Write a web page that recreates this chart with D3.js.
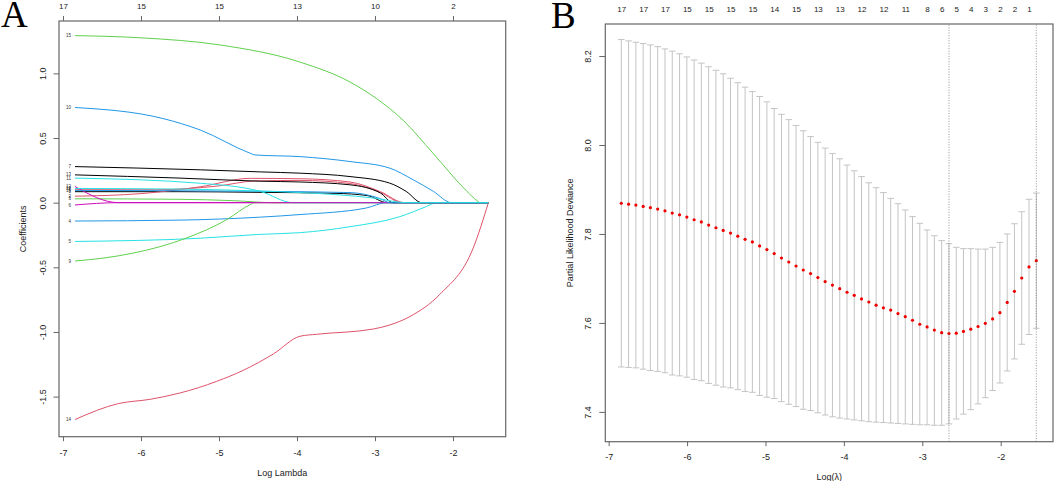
<!DOCTYPE html>
<html>
<head>
<meta charset="utf-8">
<script src="https://cdn.jsdelivr.net/npm/d3@7"></script>
<style>
  html, body { margin: 0; padding: 0; background: #fff; }
  svg { display: block; }
</style>
</head>
<body>
<script>
// ---------- panel A: lasso coefficient paths ----------
const coefXTicks = [-7, -6, -5, -4, -3, -2];
const coefTopLabels = ["17", "15", "15", "13", "10", "2"];
const coefYTicks = [1.0, 0.5, 0.0, -0.5, -1.0, -1.5];
const coefYLabels = ["1.0", "0.5", "0.0", "-0.5", "-1.0", "-1.5"];

// [log lambda, coefficient]
const coef01 = [[-6.846,0.085],[-5.5,0.085],[-4.5,0.08],[-3.5,0.072],[-3.1,0.055],[-2.84,0],[-1.546,0]];
const coef02 = [[-6.846,0.05],[-6.0,0.07],[-5.24,0.123],[-4.6,0.188],[-3.96,0.185],[-3.32,0.16],[-2.93,0.085],[-2.62,0],[-1.546,0]];
const coef03 = [[-6.846,0.03],[-5.5,0.026],[-4.8,0.015],[-4.3,0],[-1.546,0]];
const coef04 = [[-6.846,-0.142],[-5.5,-0.135],[-4.47,-0.112],[-3.96,-0.092],[-3.11,-0.041],[-2.85,0],[-1.546,0]];
const coef05 = [[-6.846,-0.30],[-5.24,-0.275],[-4.47,-0.245],[-3.96,-0.232],[-3.32,-0.186],[-2.68,-0.108],[-2.34,-0.03],[-2.21,0],[-1.546,0]];
const coef06 = [[-6.846,-0.018],[-6.29,0],[-1.546,0]];
const coef07 = [[-6.846,0.279],[-5.24,0.254],[-4.47,0.238],[-3.96,0.228],[-3.32,0.202],[-2.81,0.151],[-2.6,0.087],[-2.40,0],[-1.546,0]];
const coef08 = [[-6.846,0.10],[-5.8,0.10],[-5.0,0.13],[-4.54,0.168],[-3.96,0.172],[-3.32,0.148],[-2.93,0.078],[-2.65,0],[-1.546,0]];
const coef09 = [[-6.846,-0.451],[-6.5,-0.43],[-6.1,-0.39],[-5.41,-0.272],[-4.90,-0.131],[-4.6,-0.015],[-4.54,0],[-1.546,0]];
const coef10 = [[-6.846,0.736],[-5.72,0.651],[-5.24,0.562],[-4.60,0.382],[-4.54,0.369],[-3.96,0.356],[-3.32,0.318],[-2.81,0.267],[-2.51,0.177],[-2.25,0.087],[-2.02,0],[-1.546,0]];
const coef11 = [[-6.846,0.19],[-5.24,0.15],[-4.47,0.087],[-4.05,0],[-1.546,0]];
const coef12 = [[-6.846,0.125],[-6.29,0],[-1.546,0]];
const coef13 = [[-6.846,0.215],[-5.5,0.19],[-4.47,0.166],[-3.96,0.16],[-3.32,0.138],[-2.93,0.075],[-2.77,0],[-1.546,0]];
const coef14 = [[-6.846,-1.677],[-6.29,-1.554],[-5.885,-1.521],[-5.5,-1.472],[-5.03,-1.382],[-4.69,-1.297],[-4.30,-1.169],[-3.96,-1.033],[-3.75,-1.018],[-3.02,-0.977],[-2.81,-0.946],[-2.55,-0.88],[-2.17,-0.71],[-1.74,-0.35],[-1.546,0]];
const coef15 = [[-6.846,1.292],[-6.0,1.275],[-4.99,1.22],[-3.96,1.087],[-3.32,0.933],[-2.98,0.805],[-2.64,0.638],[-2.26,0.385],[-1.82,0.087],[-1.69,0.015],[-1.65,0],[-1.546,0]];
const coef16 = [[-6.846,0.095],[-5.5,0.092],[-4.47,0.088],[-3.32,0.078],[-2.95,0.035],[-2.8,0],[-1.546,0]];
const coef17 = [[-6.846,0.11],[-5.5,0.105],[-4.47,0.09],[-3.5,0.062],[-3.0,0.035],[-2.6,0],[-1.546,0]];
const varLabels = ["1","2","3","4","5","6","7","8","9","10","11","12","13","14","15","16","17"];

// ---------- panel B: cross-validation curve ----------
const logLambda = [-6.839,-6.746,-6.653,-6.560,-6.468,-6.375,-6.282,-6.189,-6.096,-6.003,
  -5.910,-5.818,-5.725,-5.632,-5.539,-5.446,-5.353,-5.260,-5.167,-5.075,
  -4.982,-4.889,-4.796,-4.703,-4.610,-4.518,-4.425,-4.332,-4.239,-4.146,
  -4.053,-3.960,-3.868,-3.775,-3.682,-3.589,-3.496,-3.403,-3.310,-3.217,
  -3.125,-3.032,-2.939,-2.846,-2.753,-2.660,-2.567,-2.475,-2.382,-2.289,
  -2.196,-2.103,-2.010,-1.917,-1.825,-1.732,-1.639,-1.546];
const cvMean = [7.869,7.867,7.865,7.862,7.859,7.856,7.852,7.847,7.843,7.838,
  7.832,7.827,7.820,7.814,7.808,7.802,7.795,7.788,7.782,7.773,
  7.765,7.756,7.746,7.737,7.728,7.719,7.711,7.702,7.693,7.685,
  7.677,7.669,7.662,7.654,7.647,7.640,7.634,7.629,7.621,7.614,
  7.606,7.597,7.591,7.584,7.578,7.576,7.577,7.581,7.586,7.592,
  7.599,7.609,7.623,7.646,7.671,7.701,7.726,7.740];
const cvUpper = [8.237,8.234,8.231,8.228,8.225,8.221,8.216,8.211,8.205,8.198,
  8.191,8.184,8.176,8.168,8.160,8.150,8.140,8.130,8.120,8.109,
  8.097,8.082,8.069,8.057,8.044,8.032,8.019,8.006,7.993,7.981,
  7.969,7.955,7.942,7.929,7.915,7.904,7.893,7.880,7.868,7.854,
  7.839,7.824,7.809,7.796,7.785,7.778,7.770,7.767,7.767,7.766,
  7.766,7.770,7.781,7.800,7.823,7.850,7.878,7.892];
const cvLower = [7.501,7.500,7.499,7.496,7.493,7.491,7.488,7.483,7.481,7.478,
  7.473,7.470,7.464,7.460,7.456,7.454,7.450,7.446,7.444,7.437,
  7.433,7.430,7.423,7.417,7.412,7.406,7.403,7.398,7.393,7.389,
  7.386,7.384,7.382,7.380,7.378,7.377,7.376,7.375,7.374,7.373,
  7.372,7.371,7.371,7.370,7.370,7.373,7.384,7.395,7.405,7.418,
  7.432,7.448,7.465,7.492,7.519,7.552,7.574,7.588];
const nzeroIdx = [0,3,6,9,12,15,18,21,24,27,30,33,36,39,42,44,46,48,50,52,54,56];
const nzeroLabels = ["17","17","17","15","15","15","15","14","15","13","13","12","12","11","8","6","5","4","3","2","2","1"];
const cvXTicks = [-7, -6, -5, -4, -3, -2];
const cvYTicks = [7.4, 7.6, 7.8, 8.0, 8.2];
const lambdaMinLog = -2.660;
const lambda1seLog = -1.546;

// ---------- drawing ----------
const font = "'Liberation Sans', Arial, Helvetica, sans-serif";
const axisColor = "#666";
const textColor = "#222";
const palette = ["#000000", "#DF536B", "#61D04F", "#2297E6", "#28E2E5", "#CD0BBC"];

const svg = d3.select("body").append("svg")
    .attr("width", 1055)
    .attr("height", 481)
    .style("background", "#fff");

function styleAxis(g, size) {
    g.select(".domain").remove();
    g.selectAll("line").attr("stroke", axisColor);
    g.selectAll("text")
        .attr("fill", textColor)
        .attr("font-family", font)
        .attr("font-size", size);
}

// panel letters
svg.append("text").attr("x", 1).attr("y", 27)
    .attr("font-family", "'Liberation Serif', 'Times New Roman', serif")
    .attr("font-size", 37).attr("fill", "#000").text("A");
svg.append("text").attr("x", 551).attr("y", 28)
    .attr("font-family", "'Liberation Serif', 'Times New Roman', serif")
    .attr("font-size", 37).attr("fill", "#000").text("B");

// ===== Panel A =====
const xA = d3.scaleLinear().domain([-7.051, -1.324]).range([59, 505.7]);
const yA = d3.scaleLinear().domain([-1.810, 1.405]).range([436.7, 21]);

const coefPaths = [coef01, coef02, coef03, coef04, coef05, coef06, coef07, coef08, coef09,
    coef10, coef11, coef12, coef13, coef14, coef15, coef16, coef17];

const lineA = d3.line()
    .x(d => xA(d[0]))
    .y(d => yA(d[1]))
    .curve(d3.curveMonotoneX);

const gA = svg.append("g");

gA.selectAll("path.coef")
    .data(coefPaths)
    .enter()
    .append("path")
    .attr("class", "coef")
    .attr("d", lineA)
    .attr("fill", "none")
    .attr("stroke", (d, i) => palette[i % 6])
    .attr("stroke-width", 1);

gA.selectAll("text.varlab")
    .data(coefPaths)
    .enter()
    .append("text")
    .attr("class", "varlab")
    .attr("x", d => xA(d[0][0]) - 4)
    .attr("y", d => yA(d[0][1]))
    .attr("dy", "0.35em")
    .attr("text-anchor", "end")
    .attr("font-family", font)
    .attr("font-size", 4.5)
    .attr("fill", "#333")
    .text((d, i) => varLabels[i]);

gA.append("rect")
    .attr("x", 59).attr("y", 21)
    .attr("width", 505.7 - 59).attr("height", 436.7 - 21)
    .attr("fill", "none").attr("stroke", axisColor).attr("stroke-width", 1.2);

gA.append("g")
    .attr("transform", "translate(0,436.7)")
    .call(d3.axisBottom(xA).tickValues(coefXTicks).tickSize(4.5).tickFormat(d => `${d}`))
    .call(g => styleAxis(g, 9))
    .call(g => g.selectAll("text").attr("y", 16).attr("dy", "0.35em"));

gA.append("g")
    .attr("transform", "translate(0,21)")
    .call(d3.axisTop(xA).tickValues(coefXTicks).tickSize(5).tickFormat((d, i) => coefTopLabels[i]))
    .call(g => styleAxis(g, 8))
    .call(g => g.selectAll("text").attr("y", -14.5).attr("dy", "0.35em"));

gA.append("g")
    .attr("transform", "translate(59,0)")
    .call(d3.axisLeft(yA).tickValues(coefYTicks).tickSize(5.5).tickFormat((d, i) => coefYLabels[i]))
    .call(g => styleAxis(g, 9))
    .call(g => g.selectAll("text")
        .attr("x", 0).attr("y", 0).attr("dy", "0.35em")
        .attr("text-anchor", "middle")
        .attr("transform", "translate(-16,0) rotate(-90)"));

gA.append("text")
    .attr("x", (59 + 505.7) / 2).attr("y", 473.3).attr("dy", "0.35em")
    .attr("text-anchor", "middle")
    .attr("font-family", font).attr("font-size", 9).attr("fill", textColor)
    .text("Log Lambda");

gA.append("text")
    .attr("transform", `translate(23.3,${(21 + 436.7) / 2}) rotate(-90)`)
    .attr("dy", "0.35em")
    .attr("text-anchor", "middle")
    .attr("font-family", font).attr("font-size", 9).attr("fill", textColor)
    .text("Coefficients");

// ===== Panel B =====
const xB = d3.scaleLinear().domain([-7.043, -1.333]).range([605.3, 1053]);
const yB = d3.scaleLinear().domain([7.333, 8.272]).range([441.7, 24]);
const capHalf = 0.042;

const cvData = logLambda.map((l, i) => ({ l: l, m: cvMean[i], up: cvUpper[i], lo: cvLower[i] }));

const gB = svg.append("g");
const barColor = "#c4c4c4";

gB.selectAll("line.bar")
    .data(cvData)
    .enter()
    .append("line")
    .attr("class", "bar")
    .attr("x1", d => xB(d.l)).attr("x2", d => xB(d.l))
    .attr("y1", d => yB(d.lo)).attr("y2", d => yB(d.up))
    .attr("stroke", barColor).attr("stroke-width", 1);

gB.selectAll("line.capup")
    .data(cvData)
    .enter()
    .append("line")
    .attr("class", "capup")
    .attr("x1", d => xB(d.l - capHalf)).attr("x2", d => xB(d.l + capHalf))
    .attr("y1", d => yB(d.up)).attr("y2", d => yB(d.up))
    .attr("stroke", barColor).attr("stroke-width", 1);

gB.selectAll("line.caplo")
    .data(cvData)
    .enter()
    .append("line")
    .attr("class", "caplo")
    .attr("x1", d => xB(d.l - capHalf)).attr("x2", d => xB(d.l + capHalf))
    .attr("y1", d => yB(d.lo)).attr("y2", d => yB(d.lo))
    .attr("stroke", barColor).attr("stroke-width", 1);

gB.selectAll("circle.pt")
    .data(cvData)
    .enter()
    .append("circle")
    .attr("class", "pt")
    .attr("cx", d => xB(d.l))
    .attr("cy", d => yB(d.m))
    .attr("r", 1.6)
    .attr("fill", "#ee0000");

gB.selectAll("line.vref")
    .data([lambdaMinLog, lambda1seLog])
    .enter()
    .append("line")
    .attr("class", "vref")
    .attr("x1", d => xB(d)).attr("x2", d => xB(d))
    .attr("y1", yB.range()[0]).attr("y2", yB.range()[1])
    .attr("stroke", "#777").attr("stroke-width", 0.8)
    .attr("stroke-dasharray", "1,1.6");

gB.append("rect")
    .attr("x", 605.3).attr("y", 24)
    .attr("width", 1053 - 605.3).attr("height", 441.7 - 24)
    .attr("fill", "none").attr("stroke", axisColor).attr("stroke-width", 1.2);

gB.append("g")
    .attr("transform", "translate(0,441.7)")
    .call(d3.axisBottom(xB).tickValues(cvXTicks).tickSize(4.5).tickFormat(d => `${d}`))
    .call(g => styleAxis(g, 9))
    .call(g => g.selectAll("text").attr("y", 15.6).attr("dy", "0.35em"));

gB.append("g")
    .attr("transform", "translate(0,24)")
    .call(d3.axisTop(xB).tickValues(nzeroIdx.map(i => logLambda[i])).tickSize(0)
        .tickFormat((d, i) => nzeroLabels[i]))
    .call(g => styleAxis(g, 8))
    .call(g => g.selectAll("text").attr("y", -15).attr("dy", "0.35em"));

gB.append("g")
    .attr("transform", "translate(605.3,0)")
    .call(d3.axisLeft(yB).tickValues(cvYTicks).tickSize(6).tickFormat(d3.format(".1f")))
    .call(g => styleAxis(g, 9))
    .call(g => g.selectAll("text")
        .attr("x", 0).attr("y", 0).attr("dy", "0.35em")
        .attr("text-anchor", "middle")
        .attr("transform", "translate(-17,0) rotate(-90)"));

gB.append("text")
    .attr("x", (605.3 + 1053) / 2).attr("y", 476.5).attr("dy", "0.35em")
    .attr("text-anchor", "middle")
    .attr("font-family", font).attr("font-size", 9).attr("fill", textColor)
    .text("Log(λ)");

gB.append("text")
    .attr("transform", `translate(569.6,${(24 + 441.7) / 2}) rotate(-90)`)
    .attr("dy", "0.35em")
    .attr("text-anchor", "middle")
    .attr("font-family", font).attr("font-size", 9).attr("fill", textColor)
    .text("Partial Likelihood Deviance");
</script>
</body>
</html>
